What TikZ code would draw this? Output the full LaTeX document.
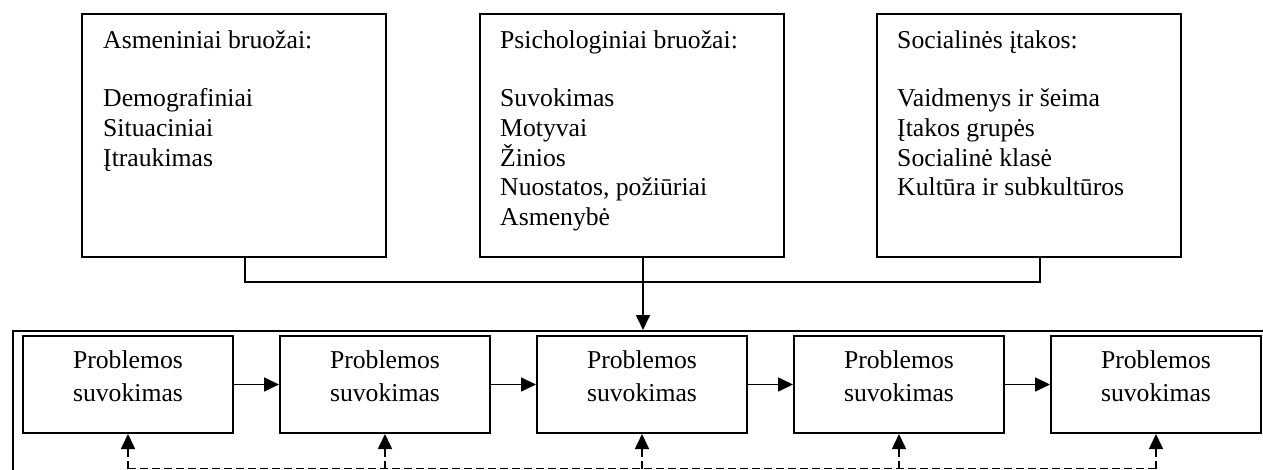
\documentclass[tikz,border=0pt]{standalone}
\usepackage{fontspec}
\setmainfont{Liberation Serif}
\usetikzlibrary{arrows.meta}
\begin{document}
\begin{tikzpicture}[x=1pt,y=-1pt,
  box/.style={draw,line width=2pt,inner sep=0pt},
  influence/.style={box,minimum width=304pt,minimum height=243pt},
  stage/.style={box,minimum width=210pt,minimum height=97pt},
  frame/.style={draw,line width=1.6pt,inner sep=0pt},
  listtext/.style={align=left,inner sep=0pt,font=\fontsize{25.7pt}{29.8pt}\selectfont},
  stagetext/.style={align=center,inner sep=0pt,font=\fontsize{25.7pt}{33pt}\selectfont},
  link/.style={line width=1.7pt},
  flow/.style={line width=1.7pt,-{Triangle[length=15pt,width=14pt]}},
  feedback/.style={line width=1.6pt,dash pattern=on 8pt off 4pt},
  feedarrow/.style={feedback,-{Triangle[length=15pt,width=14pt]}}
]
\clip (0,0) rectangle (1263,470);
\fill[white] (0,0) rectangle (1263,470);

% influence boxes
\node[influence] (b1) at (234,135.5) {};
\node[influence] (b2) at (632,135.5) {};
\node[influence] (b3) at (1029,135.5) {};

% lists: the base anchor sits on the last line
\node[listtext,anchor=base west] (t1) at (103,166.1) {Asmeniniai bruožai:\\[27.7pt]Demografiniai\\Situaciniai\\Įtraukimas};
\node[listtext,anchor=base west] (t2) at (500,225.7) {Psichologiniai bruožai:\\[27.7pt]Suvokimas\\Motyvai\\Žinios\\Nuostatos, požiūriai\\Asmenybė};
\node[listtext,anchor=base west] (t3) at (897,195.9) {Socialinės įtakos:\\[27.7pt]Vaidmenys ir šeima\\Įtakos grupės\\Socialinė klasė\\Kultūra ir subkultūros};

% process frame
\node[frame,minimum width=1300pt,minimum height=200pt,anchor=north west] (out) at (12,330) {};

% stages
\foreach \n/\x in {sA/128,sB/385,sC/642,sD/899,sE/1156}{
  \node[stage] (\n) at (\x,384.5) {};
  \node[stagetext,anchor=base] (\n t) at (\x,401.5) {Problemos\\suvokimas};
}

% joins of the influence boxes
\coordinate (j1) at ([xshift=11pt]b1.south);
\coordinate (j2) at ([xshift=11pt]b2.south);
\coordinate (j3) at ([xshift=11pt]b3.south);
\coordinate (bus) at (0,282);
\draw[link] (j1) -- (j1 |- bus) -- (j3 |- bus) -- (j3);
\draw[flow] (j2) -- (j2 |- out.north);

% stage sequence
\draw[flow] (sA.east) -- (sB.west);
\draw[flow] (sB.east) -- (sC.west);
\draw[flow] (sC.east) -- (sD.west);
\draw[flow] (sD.east) -- (sE.west);

% feedback line
\coordinate (fb) at (0,468.5);
\draw[feedback] (sA.south |- fb) -- (sE.south |- fb);
\foreach \n in {sA,sB,sC,sD,sE}
  \draw[feedarrow] (\n.south |- fb) -- (\n.south);
\end{tikzpicture}
\end{document}
